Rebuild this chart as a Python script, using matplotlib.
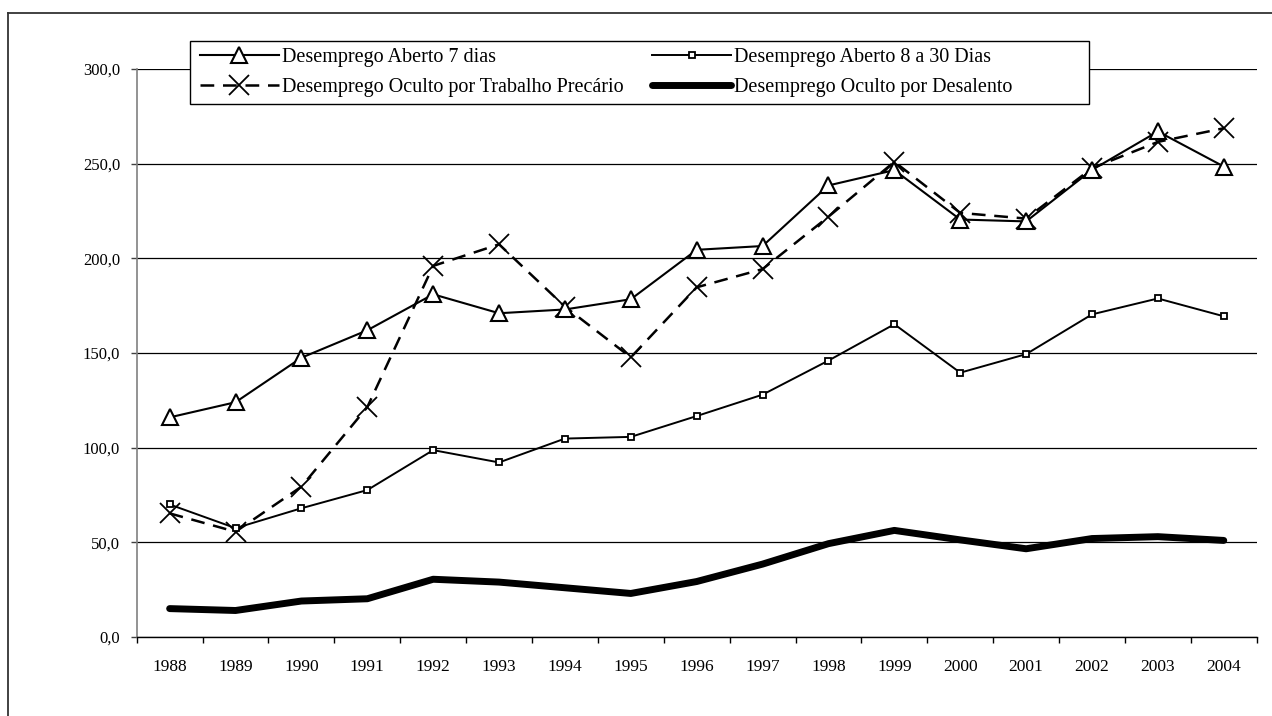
import numpy as np
import matplotlib
matplotlib.use("Agg")
import matplotlib.pyplot as plt
from matplotlib.lines import Line2D
from matplotlib.patches import Rectangle
from matplotlib.ticker import FixedLocator, FuncFormatter

years = ["1988", "1989", "1990", "1991", "1992", "1993", "1994", "1995", "1996",
         "1997", "1998", "1999", "2000", "2001", "2002", "2003", "2004"]
aberto_7 = [116, 124, 147.5, 162, 181, 171, 173, 178.4, 204.5, 206.5, 238.5, 246.6,
            220.5, 219.5, 246.7, 267, 248.5]
aberto_8_30 = [70, 57.5, 68, 77.6, 98.7, 92.2, 104.8, 105.7, 116.7, 128, 146, 165.2,
               139.6, 149.4, 170.4, 178.8, 169.4]
oculto_precario = [65.3, 55.6, 79.4, 121.4, 196, 207.4, 174.5, 147.7, 184.7, 194.3,
                   222, 251, 224, 221, 247.6, 261.5, 268.7]
oculto_desalento = [15, 14, 19, 20.2, 30.5, 29, 26, 23, 29.3, 38.5, 49.3, 56.3,
                    51.3, 46.6, 52, 53, 51]
labels = ["Desemprego Aberto 7 dias", "Desemprego Oculto por Trabalho Precário",
          "Desemprego Aberto 8 a 30 Dias", "Desemprego Oculto por Desalento"]

plt.rcParams['font.family'] = ['Liberation Serif', 'DejaVu Serif']

W, H = 1272, 716
fig = plt.figure(figsize=(W / 100, H / 100), dpi=100)
ax = fig.add_axes([136.7 / W, 1 - 637 / H, 1120 / W, 568 / H])

x = np.arange(len(years))
l1, = ax.plot(x, aberto_7, color='black', lw=1.5, marker='^', markersize=12,
              markerfacecolor='white', markeredgecolor='black', markeredgewidth=1.5, zorder=4)
l3, = ax.plot(x, oculto_precario, color='black', lw=1.8, dashes=(5.5, 3.5), marker='x',
              markersize=14, markeredgewidth=1.3, zorder=3)
l2, = ax.plot(x, aberto_8_30, color='black', lw=1.4, marker='s', markersize=5,
              markerfacecolor='white', markeredgecolor='black', markeredgewidth=1.3, zorder=4)
l4, = ax.plot(x, oculto_desalento, color='black', lw=5, solid_capstyle='round', zorder=3)

ax.set_xlim(-0.5, len(years) - 0.5)
ax.set_ylim(0, 300)
ax.set_yticks(np.arange(0, 301, 50))
ax.yaxis.set_major_formatter(FuncFormatter(lambda v, p: f"{v:.1f}".replace('.', ',')))
ax.set_xticks(x)
ax.set_xticklabels(years)
ax.xaxis.set_minor_locator(FixedLocator(np.arange(-0.5, len(years), 1)))
ax.tick_params(axis='x', which='major', length=0, pad=15.5, labelsize=12.5)
ax.tick_params(axis='x', which='minor', length=4.5, width=1, direction='out', color='black')
ax.tick_params(axis='y', which='major', length=4.5, width=1, direction='out', pad=7.5,
               labelsize=12, color='#404040')

ax.grid(axis='y', color='black', lw=0.9)
ax.set_axisbelow(True)
for s in ['top', 'right']:
    ax.spines[s].set_visible(False)
ax.spines['left'].set_color('#808080')
ax.spines['left'].set_linewidth(1.2)
ax.spines['bottom'].set_color('black')
ax.spines['bottom'].set_linewidth(1.0)

# legend box (Excel-style, wider than its content)
fig.add_artist(Rectangle((190 / W, 1 - 104 / H), (1089 - 190) / W, (104 - 41) / H,
                         transform=fig.transFigure, facecolor='white', edgecolor='black',
                         lw=1.0, zorder=4))
leg = fig.legend([l1, l3, l2, l4], labels, ncol=2, loc='upper left',
                 bbox_to_anchor=(200 / W, 1 - 48 / H), frameon=False,
                 fontsize=14.5, handlelength=3.9, handletextpad=0.15, columnspacing=1.45,
                 borderpad=0, labelspacing=0.55, borderaxespad=0)
leg.set_zorder(5)

# outer chart border (extends beyond the image on the right and bottom)
bx = 8.3 / W
by = 1 - 12.5 / H
fig.add_artist(Line2D([bx, bx], [-0.01, by], transform=fig.transFigure, color='#333333', lw=1.3))
fig.add_artist(Line2D([bx, 1.01], [by, by], transform=fig.transFigure, color='#333333', lw=1.3))

fig.savefig("out.png", dpi=100)
